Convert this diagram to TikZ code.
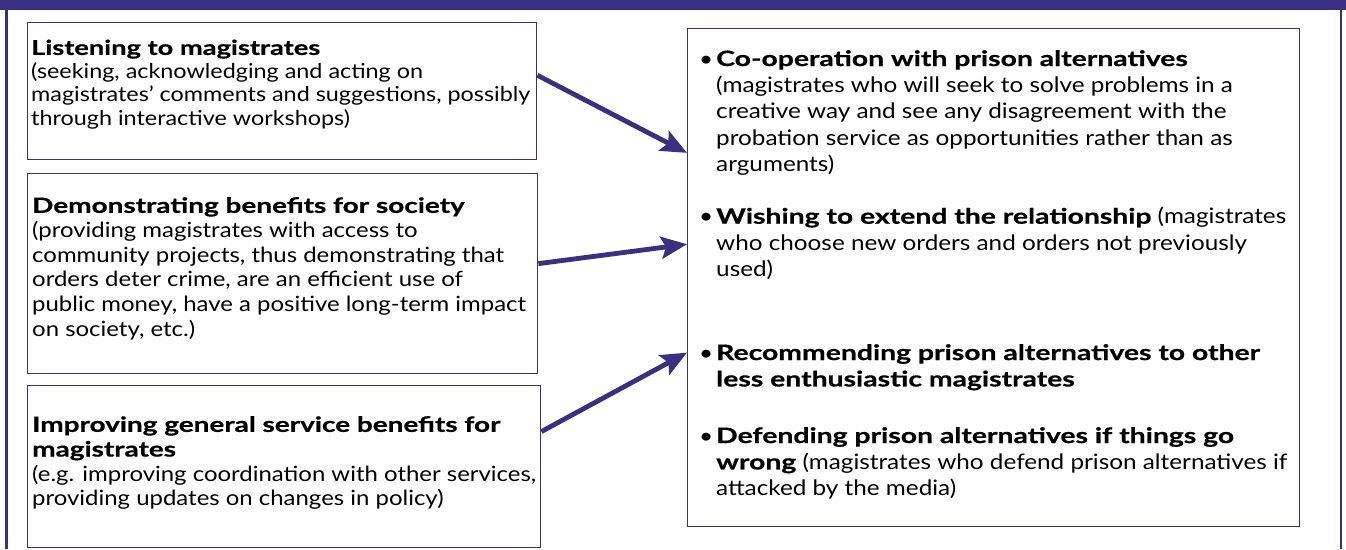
\documentclass[tikz,border=0pt]{standalone}
\usepackage{fontspec}
\setmainfont{Lato}[FakeStretch=1.14, BoldFeatures={FakeStretch=1.33, FakeBold=0.6}]
\usetikzlibrary{arrows.meta,calc}
\definecolor{navy}{RGB}{58,47,128}

\tikzset{
  box/.style={draw=navy, line width=1.4pt, anchor=north west, inner sep=0pt},
  txt/.style={anchor=north west, inner sep=0pt, align=left, text=black,
              font=\fontsize{21}{24.7}\selectfont},
  rtxt/.style={txt, font=\fontsize{21.3}{26.4}\selectfont},
  link/.style={draw=navy, line width=4.8pt,
               -{Stealth[length=26pt,width=22pt,inset=5pt]}}
}
\newcommand{\bitem}{\llap{\textbullet\hspace{3pt}}}

\begin{document}
\begin{tikzpicture}[x=1pt,y=-1pt]
  \useasboundingbox (0,0) rectangle (1346,549);

  % outer frame: heavy top band and thin side rules
  \fill[navy] (0,0) rectangle (1346,10);
  \fill[navy] (5,0) rectangle (7.5,549);
  \fill[navy] (1339.5,0) rectangle (1342,549);

  % left-hand boxes
  \node[box, minimum width=509pt, minimum height=137pt] (b1) at (27,22) {};
  \node[box, minimum width=510pt, minimum height=200pt] (b2) at (27,173) {};
  \node[box, minimum width=513pt, minimum height=162pt] (b3) at (27,385) {};

  % right-hand box
  \node[box, minimum width=612pt, minimum height=498pt] (r) at (687,28) {};

  % left texts
  \node[txt, font=\fontsize{20.5}{23.5}\selectfont] (t1) at (31,39.5) {%
    \textbf{Listening to magistrates}\\
    (seeking, acknowledging and acting on\\
    magistrates’ comments and suggestions, possibly\\
    through interactive workshops)};
  \node[txt] (t2) at (32,197) {%
    \textbf{Demonstrating benefits for society}\\
    (providing magistrates with access to\\
    community projects, thus demonstrating that\\
    orders deter crime, are an efficient use of\\
    public money, have a positive long-term impact\\
    on society, etc.)};
  \node[txt] (t3) at (32,416) {%
    \textbf{Improving general service benefits for}\\
    \textbf{magistrates}\\
    (e.g. improving coordination with other services,\\
    providing updates on changes in policy)};

  % right texts
  \node[rtxt] (r1) at (716,50) {%
    \bitem\textbf{Co-operation with prison alternatives}\\
    (magistrates who will seek to solve problems in a\\
    creative way and see any disagreement with the\\
    probation service as opportunities rather than as\\
    arguments)};
  \node[rtxt] (r2) at (716,207) {%
    \bitem\textbf{Wishing to extend the relationship} (magistrates\\
    who choose new orders and orders not previously\\
    used)};
  \node[rtxt] (r3) at (716,344) {%
    \bitem\textbf{Recommending prison alternatives to other}\\
    \textbf{less enthusiastic magistrates}};
  \node[rtxt] (r4) at (716,427) {%
    \bitem\textbf{Defending prison alternatives if things go}\\
    \textbf{wrong} (magistrates who defend prison alternatives if\\
    attacked by the media)};

  % connectors
  \draw[link] ($(b1.north east)!0.385!(b1.south east)$) -- ($(r.north west)!0.25!(r.south west)$);
  \draw[link] ($(b2.north east)!0.45!(b2.south east)$) -- ($(r.north west)!0.433!(r.south west)$);
  \draw[link] ($(b3.north east)!0.285!(b3.south east)$) -- ($(r.north west)!0.65!(r.south west)$);
\end{tikzpicture}
\end{document}
